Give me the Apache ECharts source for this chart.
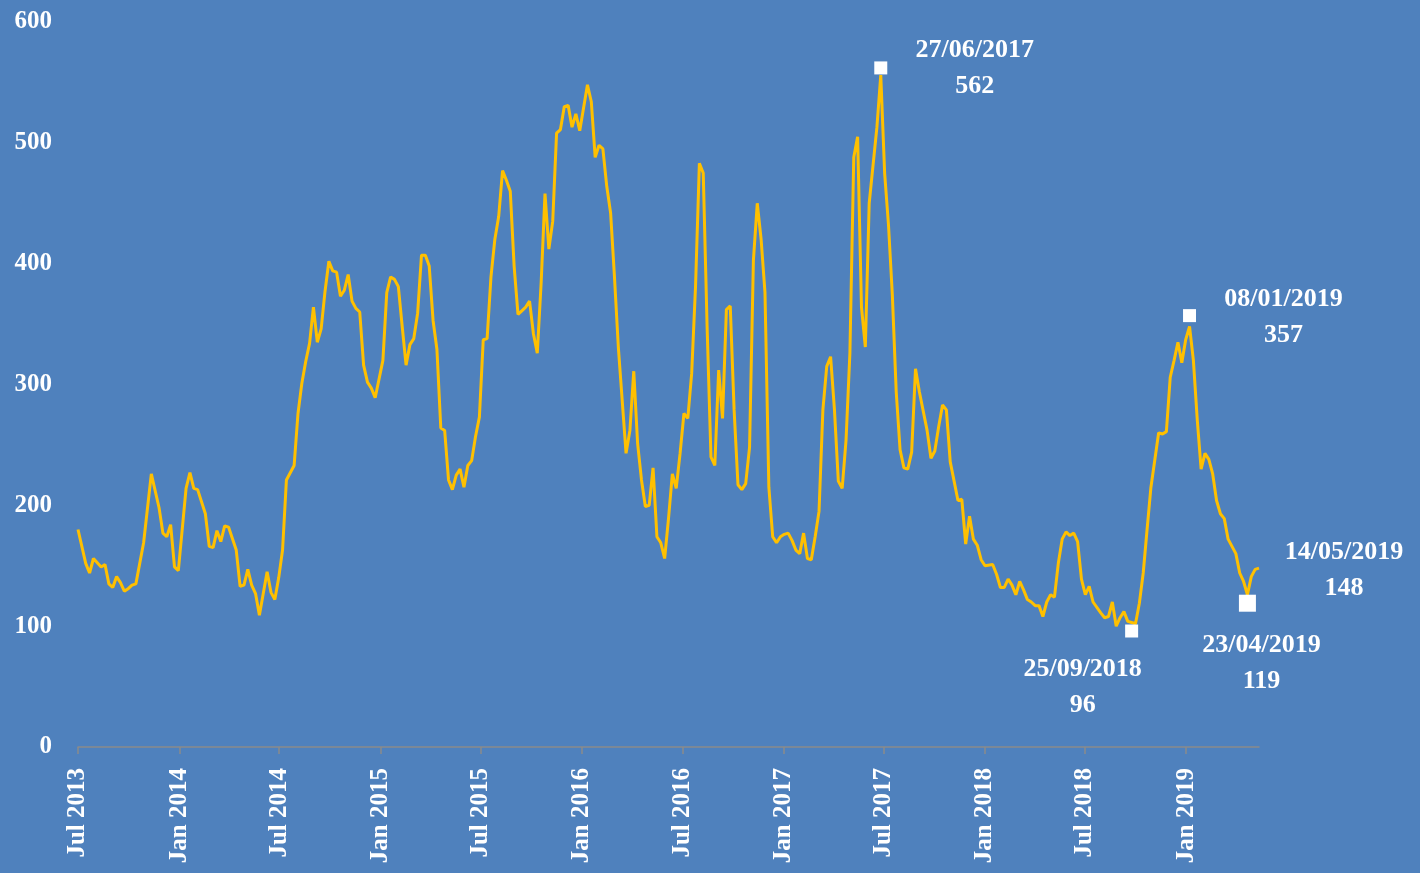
<!DOCTYPE html>
<html>
<head>
<meta charset="utf-8">
<script src="https://cdn.jsdelivr.net/npm/echarts@6/dist/echarts.min.js"></script>
<style>
html, body { margin: 0; padding: 0; width: 100%; height: 100%; background: #4F81BD; }
#chart { width: 1420px; height: 873px; }
</style>
</head>
<body>
<div id="chart"></div>
<script>
// weekly series, week number counted from Tue 2 Jul 2013
const startDate = [2013, 6, 2];
const weekNo = [
  0, 2, 3, 4, 6, 7, 8, 9, 10, 11, 12, 13, 14, 15, 17, 19, 21, 22, 23, 24, 25, 26, 28, 29, 30, 31, 33, 34, 35, 36,
  37, 38, 39, 41, 42, 43, 44, 45, 46, 47, 48, 49, 50, 51, 52, 53, 54, 56, 57, 58, 59, 60, 61, 62, 63, 64, 65, 66, 67, 68,
  69, 70, 71, 72, 73, 74, 75, 76, 77, 79, 80, 81, 82, 83, 84, 85, 86, 87, 88, 89, 90, 91, 92, 93, 94, 95, 96, 97, 98, 99,
  100, 101, 102, 103, 104, 105, 106, 107, 108, 109, 110, 111, 112, 113, 114, 115, 116, 117, 118, 119, 120, 121, 122, 123, 124, 125, 126, 127, 128, 129,
  130, 132, 133, 134, 135, 136, 137, 138, 139, 140, 142, 143, 144, 145, 146, 147, 148, 149, 150, 151, 152, 153, 154, 155, 156, 157, 158, 159, 160, 161,
  162, 163, 164, 165, 166, 167, 168, 169, 170, 171, 172, 173, 174, 175, 176, 177, 178, 179, 180, 181, 182, 183, 184, 185, 186, 187, 188, 189, 190, 191,
  192, 193, 194, 195, 196, 197, 198, 199, 200, 201, 202, 203, 204, 205, 207, 208, 209, 210, 211, 212, 213, 214, 215, 216, 217, 218, 220, 221, 222, 223,
  224, 225, 226, 227, 228, 229, 230, 231, 232, 233, 234, 235, 237, 238, 239, 240, 241, 242, 243, 244, 245, 246, 247, 248, 249, 250, 251, 252, 253, 254,
  255, 256, 257, 258, 259, 260, 261, 262, 263, 265, 266, 267, 268, 269, 270, 271, 272, 273, 274, 275, 276, 277, 278, 280, 281, 282, 283, 284, 285, 286,
  287, 288, 289, 290, 291, 292, 293, 294, 295, 296, 297, 298, 299, 300, 301, 302, 303, 304, 305, 306
];
const values = [
  180, 152, 144, 156, 149, 151, 135, 132, 141, 136, 129, 131, 134, 135, 169, 226, 198, 177, 174, 184, 149, 146, 214, 227, 214, 213, 193, 166, 165, 179,
  170, 183, 182, 163, 133, 134, 147, 134, 127, 109, 127, 145, 128, 122, 140, 163, 221, 233, 276, 301, 319, 334, 364, 335, 346, 377, 402, 394, 393, 373,
  378, 391, 369, 363, 360, 316, 302, 297, 289, 320, 376, 389, 387, 381, 348, 316, 333, 338, 359, 407, 407, 398, 353, 329, 264, 262, 221, 213, 225, 230,
  215, 233, 237, 257, 273, 337, 338, 389, 420, 439, 477, 469, 460, 398, 358, 361, 364, 369, 342, 326, 384, 458, 412, 435, 508, 511, 530, 531, 513, 524,
  510, 548, 534, 488, 498, 495, 464, 442, 389, 331, 243, 262, 311, 251, 221, 199, 200, 231, 174, 169, 156, 189, 226, 214, 243, 276, 272, 309, 381, 483,
  475, 348, 240, 233, 312, 272, 362, 365, 279, 217, 213, 218, 248, 403, 450, 420, 376, 215, 174, 169, 174, 176, 177, 171, 163, 160, 177, 156, 155, 174,
  195, 279, 315, 323, 279, 220, 214, 254, 326, 488, 505, 364, 331, 450, 513, 556, 475, 432, 374, 294, 246, 231, 230, 244, 313, 294, 262, 239, 245, 265,
  283, 279, 236, 220, 204, 205, 168, 191, 172, 167, 155, 150, 151, 143, 132, 132, 139, 134, 126, 137, 130, 122, 120, 117, 117, 108, 120, 126, 124, 152,
  172, 178, 175, 177, 170, 139, 126, 133, 120, 111, 107, 108, 120, 100, 107, 112, 104, 103, 102, 119, 144, 180, 215, 260, 259, 261, 306, 320, 335, 318,
  337, 348, 320, 271, 230, 243, 238, 226, 204, 193, 189, 172, 166, 160, 144, 137, 126, 141, 147, 148
];

// highlighted points
const hlDates = ['2017-06-27', '2018-09-25', '2019-01-08', '2019-04-23', '2019-05-14'];
const hlValues = [562, 96, 357, 119, 148];

// axis ticks
const tickDates = ['2013-07-02', '2014-01-02', '2014-07-02', '2015-01-02', '2015-07-02', '2016-01-02',
  '2016-07-02', '2017-01-02', '2017-07-02', '2018-01-02', '2018-07-02', '2019-01-02'];
const endDate = '2019-05-14';
const months = ['Jan', 'Feb', 'Mar', 'Apr', 'May', 'Jun', 'Jul', 'Aug', 'Sep', 'Oct', 'Nov', 'Dec'];

function toTime(s) {
  const p = s.split('-');
  return new Date(+p[0], +p[1] - 1, +p[2]).getTime();
}
function fmtDate(s) {
  const p = s.split('-');
  return p[2] + '/' + p[1] + '/' + p[0];
}

const lineData = weekNo.map((w, i) => [
  new Date(startDate[0], startDate[1], startDate[2] + 7 * w).getTime(), values[i]
]);

// label placement for the highlighted points
const hlStyle = [
  { size: 13, offset: [94, 0] },
  { size: 13, offset: [-49, 56] },
  { size: 13, offset: [94, 2] },
  { size: 17, offset: [14, 60] },
  { size: 0, offset: [85, 2] }
];
const hlData = hlDates.map((d, i) => ({
  value: [toTime(d), hlValues[i]],
  name: fmtDate(d),
  symbolSize: hlStyle[i].size,
  label: { offset: hlStyle[i].offset }
}));

const font = 'Liberation Serif';
const tickTimes = tickDates.map(toTime);
const chart = echarts.init(document.getElementById('chart'));
chart.setOption({
  backgroundColor: '#4F81BD',
  animation: false,
  grid: { left: 78, right: 161, top: 22, bottom: 126 },
  xAxis: {
    type: 'value',
    min: tickTimes[0],
    max: toTime(endDate),
    axisLine: { show: true, lineStyle: { color: '#8a8a8a', width: 1.5 } },
    axisTick: { show: true, length: 7, customValues: tickTimes, lineStyle: { color: '#8a8a8a', width: 1.5 } },
    splitLine: { show: false },
    axisLabel: {
      customValues: tickTimes,
      rotate: 90,
      margin: 21,
      color: '#ffffff',
      fontFamily: font,
      fontWeight: 'bold',
      fontSize: 25,
      formatter: function (v) {
        const d = new Date(v);
        return months[d.getMonth()] + ' ' + d.getFullYear();
      }
    }
  },
  yAxis: {
    type: 'value',
    min: 0,
    max: 600,
    interval: 100,
    axisLine: { show: false },
    axisTick: { show: false },
    splitLine: { show: false },
    axisLabel: {
      margin: 26,
      color: '#ffffff',
      fontFamily: font,
      fontWeight: 'bold',
      fontSize: 25
    }
  },
  series: [
    {
      type: 'line',
      data: lineData,
      showSymbol: false,
      lineStyle: { color: '#FFC000', width: 3 },
      z: 2
    },
    {
      type: 'scatter',
      data: hlData,
      symbol: 'rect',
      itemStyle: { color: '#ffffff', opacity: 1 },
      z: 3,
      label: {
        show: true,
        position: 'inside',
        color: '#ffffff',
        fontFamily: font,
        fontWeight: 'bold',
        fontSize: 26,
        lineHeight: 36,
        align: 'center',
        formatter: function (p) { return p.name + '\n' + p.value[1]; }
      }
    }
  ]
});
</script>
</body>
</html>
